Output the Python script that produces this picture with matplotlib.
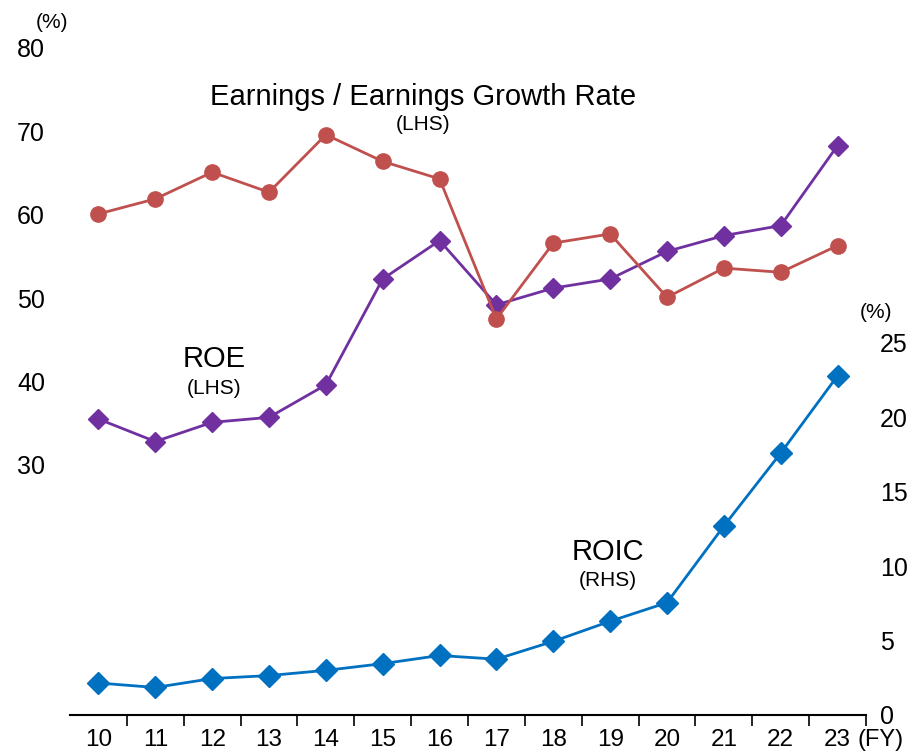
import matplotlib.pyplot as plt
import numpy as np

plt.rcParams['font.family'] = ['Liberation Sans', 'DejaVu Sans']

# fiscal years
years = ['10', '11', '12', '13', '14', '15', '16', '17', '18', '19', '20', '21', '22', '23']
# earnings growth rate (LHS, %)
earnings = [60.1, 61.9, 65.1, 62.7, 69.6, 66.4, 64.3, 47.5, 56.6, 57.7, 50.1, 53.6, 53.1, 56.3]
# ROE (LHS, %)
roe = [35.5, 32.8, 35.1, 35.7, 39.6, 52.3, 56.9, 49.2, 51.2, 52.3, 55.6, 57.5, 58.7, 68.3]
# ROIC (RHS, %)
roic = [2.15, 1.85, 2.45, 2.65, 3.0, 3.45, 4.0, 3.75, 4.95, 6.3, 7.55, 12.7, 17.6, 22.8]

left_ticks = [30, 40, 50, 60, 70, 80]
right_ticks = [0, 5, 10, 15, 20, 25]

red = '#C0504D'
purple = '#7030A0'
blue = '#0070C0'

fig = plt.figure(figsize=(9.12, 7.55), dpi=100)
ax = fig.add_axes([70 / 912, 40 / 755, 796 / 912, 667 / 755])
ax2 = ax.twinx()

x = np.arange(len(years))

ax.plot(x, roe, color=purple, lw=2, marker='D', ms=10.5, zorder=3)
ax.plot(x, earnings, color=red, lw=2, marker='o', ms=11, zorder=4)
ax2.plot(x, roic, color=blue, lw=2, marker='D', ms=11.5, zorder=3)

ax.set_xlim(-0.5, len(years) - 0.5)
ax.set_ylim(0, 80)
# right axis: 0 at the baseline, 25 level with ~41.7 on the left
ax2.set_ylim(0, (715 - 48) / 14.88)

ax.set_xticks(x)
ax.set_xticklabels(years, fontsize=17.5)
ax.set_xticks(np.arange(0.5, len(years)), minor=True)
ax.tick_params(axis='x', which='major', length=0, pad=10)
ax.tick_params(axis='x', which='minor', length=8, width=1.2, direction='out')

ax.set_yticks(left_ticks)
ax.set_yticklabels([str(t) for t in left_ticks], fontsize=18)
ax.tick_params(axis='y', length=0, pad=18)

ax2.set_yticks(right_ticks)
ax2.set_yticklabels([str(t) for t in right_ticks], fontsize=18)
ax2.tick_params(axis='y', length=0, pad=10)

for a in (ax, ax2):
    for s in ['top', 'left', 'right']:
        a.spines[s].set_visible(False)
ax2.spines['bottom'].set_visible(False)
ax.spines['bottom'].set_linewidth(1.5)

fig.text(36 / 912, 1 - 23 / 755, '(%)', fontsize=15, ha='left', va='center')
fig.text(876 / 912, 1 - 312 / 755, '(%)', fontsize=15, ha='center', va='center')
fig.text(881 / 912, 1 - 740 / 755, '(FY)', fontsize=17, ha='center', va='center')

fig.text(423 / 912, 1 - 97 / 755, 'Earnings / Earnings Growth Rate', fontsize=21, ha='center', va='center')
fig.text(423 / 912, 1 - 125 / 755, '(LHS)', fontsize=15, ha='center', va='center')
fig.text(214 / 912, 1 - 359 / 755, 'ROE', fontsize=21, ha='center', va='center')
fig.text(214 / 912, 1 - 388 / 755, '(LHS)', fontsize=15, ha='center', va='center')
fig.text(608 / 912, 1 - 552 / 755, 'ROIC', fontsize=21, ha='center', va='center')
fig.text(608 / 912, 1 - 581 / 755, '(RHS)', fontsize=15, ha='center', va='center')

fig.savefig('out.png', dpi=100)
